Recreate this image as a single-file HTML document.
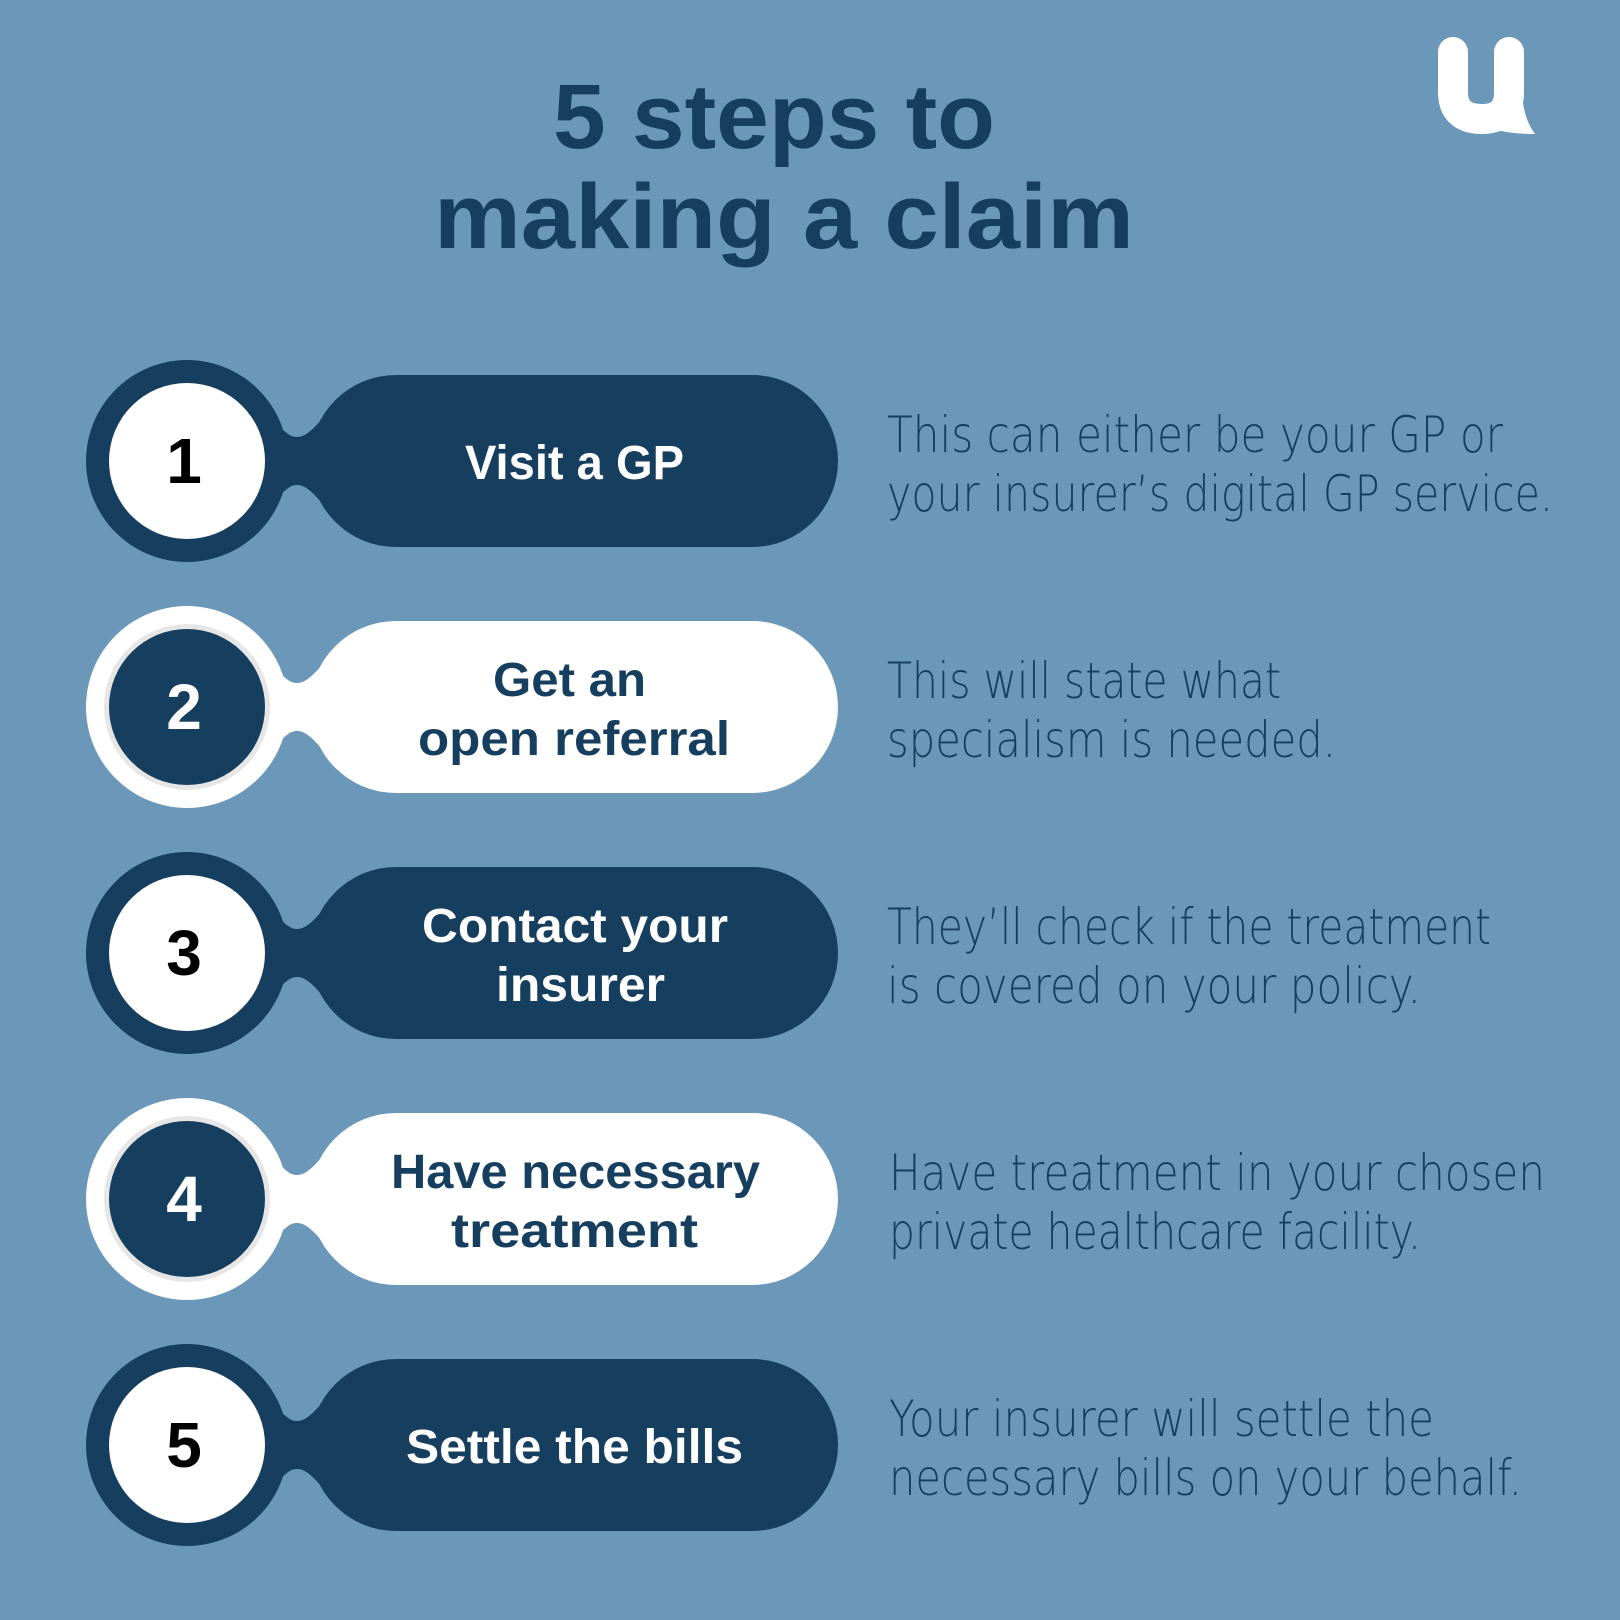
<!DOCTYPE html>
<html><head><style>html,body{margin:0;padding:0;background:#6b98b8}svg{display:block}.d{font-family:"DejaVu Sans","Liberation Sans",sans-serif;font-weight:200}</style></head><body>
<svg width="1620" height="1620" viewBox="0 0 1620 1620" xmlns="http://www.w3.org/2000/svg" font-family="Liberation Sans, sans-serif">
<rect width="1620" height="1620" fill="#6b98b8"/>
<g fill="#163e5e" font-weight="bold" font-size="92">
<text x="553" y="148" textLength="442" lengthAdjust="spacingAndGlyphs">5 steps to</text>
<text x="434" y="248" textLength="700" lengthAdjust="spacingAndGlyphs">making a claim</text>
</g>
<!-- logo -->
<path d="M1453 52 L1453 92 Q1453 119 1482 119 Q1509 119 1509 92 L1509 52" fill="none" stroke="#fff" stroke-width="30" stroke-linecap="round"/>
<path d="M1522 92 Q1523 118 1535 134 Q1505 134 1488 127 Z" fill="#fff"/>
<defs>
<g id="shape">
<circle cx="187" cy="0" r="101"/>
<path d="M200 0 L250 -78 C280 -28 290 -24 297 -24 C305 -24 314 -30 336 -60 L400 -60 L400 60 L336 60 C314 30 305 24 297 24 C290 24 280 28 250 78 Z"/>
<rect x="310" y="-86" width="528" height="172" rx="86"/>
</g>
</defs>
<!-- row 1 -->
<g transform="translate(0,461)">
<use href="#shape" fill="#163e5e"/><circle cx="187" cy="0" r="78" fill="#fff"/>
<text x="184" y="22" font-size="64" font-weight="bold" text-anchor="middle" fill="#000">1</text>
<text x="465" y="18" font-size="48" font-weight="bold" fill="#fff" textLength="219" lengthAdjust="spacingAndGlyphs">Visit a GP</text>
<g class="d" fill="#163e5e" font-size="50"><text x="887" y="-9" textLength="616" lengthAdjust="spacingAndGlyphs">This can either be your GP or</text><text x="887" y="50" textLength="666" lengthAdjust="spacingAndGlyphs">your insurer’s digital GP service.</text></g>
</g>
<!-- row 2 -->
<g transform="translate(0,707)">
<use href="#shape" fill="#fff"/><circle cx="187" cy="0" r="83" fill="#e6e6e6"/><circle cx="187" cy="0" r="78" fill="#163e5e"/>
<text x="184" y="22" font-size="64" font-weight="bold" text-anchor="middle" fill="#fff">2</text>
<g fill="#163e5e" font-size="48" font-weight="bold"><text x="493" y="-11" textLength="153" lengthAdjust="spacingAndGlyphs">Get an</text><text x="418" y="48" textLength="312" lengthAdjust="spacingAndGlyphs">open referral</text></g>
<g class="d" fill="#163e5e" font-size="50"><text x="887" y="-9" textLength="394" lengthAdjust="spacingAndGlyphs">This will state what</text><text x="887" y="50" textLength="449" lengthAdjust="spacingAndGlyphs">specialism is needed.</text></g>
</g>
<!-- row 3 -->
<g transform="translate(0,953)">
<use href="#shape" fill="#163e5e"/><circle cx="187" cy="0" r="78" fill="#fff"/>
<text x="184" y="22" font-size="64" font-weight="bold" text-anchor="middle" fill="#000">3</text>
<g fill="#fff" font-size="48" font-weight="bold"><text x="422" y="-11" textLength="306" lengthAdjust="spacingAndGlyphs">Contact your</text><text x="496" y="48" textLength="169" lengthAdjust="spacingAndGlyphs">insurer</text></g>
<g class="d" fill="#163e5e" font-size="50"><text x="887" y="-9" textLength="604" lengthAdjust="spacingAndGlyphs">They’ll check if the treatment</text><text x="887" y="50" textLength="534" lengthAdjust="spacingAndGlyphs">is covered on your policy.</text></g>
</g>
<!-- row 4 -->
<g transform="translate(0,1199)">
<use href="#shape" fill="#fff"/><circle cx="187" cy="0" r="83" fill="#e6e6e6"/><circle cx="187" cy="0" r="78" fill="#163e5e"/>
<text x="184" y="22" font-size="64" font-weight="bold" text-anchor="middle" fill="#fff">4</text>
<g fill="#163e5e" font-size="48" font-weight="bold"><text x="391" y="-11" textLength="369" lengthAdjust="spacingAndGlyphs">Have necessary</text><text x="451" y="48" textLength="247" lengthAdjust="spacingAndGlyphs">treatment</text></g>
<g class="d" fill="#163e5e" font-size="50"><text x="889" y="-9" textLength="656" lengthAdjust="spacingAndGlyphs">Have treatment in your chosen</text><text x="889" y="50" textLength="532" lengthAdjust="spacingAndGlyphs">private healthcare facility.</text></g>
</g>
<!-- row 5 -->
<g transform="translate(0,1445)">
<use href="#shape" fill="#163e5e"/><circle cx="187" cy="0" r="78" fill="#fff"/>
<text x="184" y="22" font-size="64" font-weight="bold" text-anchor="middle" fill="#000">5</text>
<text x="406" y="18" font-size="48" font-weight="bold" fill="#fff" textLength="337" lengthAdjust="spacingAndGlyphs">Settle the bills</text>
<g class="d" fill="#163e5e" font-size="50"><text x="889" y="-9" textLength="545" lengthAdjust="spacingAndGlyphs">Your insurer will settle the</text><text x="889" y="50" textLength="633" lengthAdjust="spacingAndGlyphs">necessary bills on your behalf.</text></g>
</g>
</svg>
</body></html>
